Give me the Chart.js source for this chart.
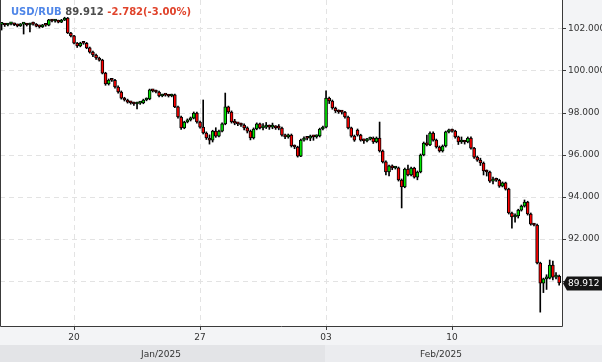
<!DOCTYPE html>
<html><head><meta charset="utf-8">
<script src="https://cdn.jsdelivr.net/npm/chart.js"></script>
<style>html,body{margin:0;padding:0;background:#f3f4f6;}canvas{display:block;}</style>
</head><body>
<canvas id="c" width="602" height="362"></canvas>
<script>
const symbol = 'USD/RUB';
const lastPriceText = '89.912';
const changeText = '-2.782(-3.00%)';

// 3-hour candles, index 0 = Jan 15
const open = [102.22,102.24,102.19,102.24,102.25,102.20,102.15,102.23,102.24,102.19,
102.24,102.23,102.14,102.10,102.19,102.18,102.43,102.38,102.39,102.33,
102.42,102.52,101.81,101.67,101.33,101.19,101.33,101.32,101.10,100.90,
100.76,100.62,100.52,99.90,99.38,99.57,99.56,99.24,99.00,98.71,
98.62,98.52,98.48,98.43,98.47,98.48,98.62,98.67,99.10,99.05,
99.00,98.81,98.86,98.85,98.81,98.86,98.29,97.81,97.29,97.57,
97.67,97.76,98.00,97.57,97.33,97.05,96.81,96.71,97.14,96.90,
97.14,97.48,98.29,98.05,97.57,97.52,97.48,97.43,97.29,97.14,
96.81,97.24,97.48,97.29,97.33,97.38,97.33,97.34,97.29,97.28,
96.95,96.86,96.95,96.43,96.38,95.95,96.71,96.81,96.80,96.90,
96.86,96.91,97.24,97.33,98.71,98.57,98.24,98.10,98.05,98.04,
97.81,97.29,96.90,97.19,96.95,96.71,96.67,96.76,96.81,96.62,
96.81,96.19,95.67,95.19,95.48,95.38,95.39,94.81,94.48,95.33,
95.05,95.38,94.95,95.19,96.00,96.57,96.48,97.05,96.71,96.38,
96.19,96.43,97.10,97.19,97.14,96.86,96.62,96.63,96.62,96.81,
96.33,95.90,95.76,95.62,95.24,95.19,94.76,94.81,94.80,94.52,
94.67,94.38,93.24,93.05,93.10,93.38,93.57,93.76,93.19,92.71,
92.67,90.86,89.90,90.10,90.14,90.76,90.19,90.24];
const high = [102.28,102.27,102.27,102.30,102.28,102.23,102.26,102.30,102.27,102.28,
102.33,102.26,102.18,102.22,102.24,102.46,102.46,102.43,102.42,102.46,
102.56,102.55,101.84,101.70,101.36,101.37,101.37,101.36,101.14,100.95,
100.80,100.66,100.56,99.94,99.62,99.63,99.60,99.29,99.05,98.75,
98.66,98.56,98.52,98.52,98.53,98.66,98.72,99.14,99.13,99.09,
99.04,98.90,98.90,98.89,98.90,98.90,98.33,97.85,97.61,97.72,
97.81,98.05,98.04,97.62,98.62,97.10,96.96,97.18,97.30,97.19,
97.53,98.95,98.33,98.10,97.70,97.56,97.52,97.48,97.34,97.19,
97.29,97.53,97.52,97.50,97.55,97.43,97.52,97.40,97.45,97.33,
97.00,97.00,97.00,96.48,96.42,96.76,96.86,96.86,96.95,96.94,
96.96,97.28,97.38,99.05,98.76,98.62,98.28,98.15,98.10,98.08,
97.85,97.33,96.95,97.24,96.99,96.76,96.80,96.85,96.86,96.86,
97.57,96.24,95.72,95.52,95.53,95.44,95.43,94.86,95.38,95.52,
95.43,95.42,95.24,96.05,96.62,96.95,97.10,97.10,96.76,96.43,
96.48,97.14,97.24,97.24,97.18,96.90,96.86,96.70,96.86,96.86,
96.37,95.95,95.85,95.67,95.29,95.23,94.95,94.90,94.85,94.72,
94.71,94.42,93.28,93.20,93.42,93.62,93.86,93.80,93.24,92.75,
92.71,90.90,90.14,90.30,91.00,90.95,90.40,90.28];
const low = [101.95,102.12,102.15,102.19,102.16,102.10,102.12,101.76,102.14,101.86,
102.18,102.10,102.05,102.07,102.13,102.15,102.34,102.33,102.29,102.30,
102.40,101.78,101.62,101.29,101.12,101.15,101.27,101.06,100.85,100.68,
100.55,100.47,99.86,99.32,99.33,99.50,99.18,98.95,98.66,98.57,
98.47,98.42,98.36,98.19,98.41,98.44,98.58,98.63,99.00,98.96,
98.76,98.77,98.80,98.76,98.77,98.25,97.76,97.22,97.25,97.53,
97.62,97.72,97.52,97.28,97.00,96.74,96.52,96.62,96.84,96.86,
97.10,97.44,97.98,97.52,97.44,97.40,97.36,97.20,97.05,96.72,
96.76,97.20,97.24,97.20,97.26,97.22,97.25,97.22,97.20,96.90,
96.78,96.80,96.38,96.30,95.90,95.92,96.66,96.72,96.68,96.70,
96.80,96.86,97.20,97.29,98.45,98.18,98.02,97.98,97.95,97.75,
97.24,96.85,96.65,96.90,96.66,96.55,96.62,96.72,96.55,96.58,
96.14,95.62,95.05,95.00,95.30,95.33,94.76,93.48,94.44,95.00,
95.00,94.90,94.82,95.15,95.96,96.43,96.44,96.66,96.33,96.14,
96.14,96.38,97.05,97.09,96.80,96.50,96.55,96.52,96.58,96.28,
95.84,95.70,95.50,95.05,95.00,94.70,94.62,94.74,94.46,94.48,
94.33,93.19,92.52,92.80,93.00,93.33,93.52,93.14,92.66,92.62,
90.82,88.52,89.45,89.60,90.10,90.05,90.10,89.80];
const close = [102.24,102.19,102.24,102.25,102.20,102.15,102.23,102.24,102.19,102.24,
102.23,102.14,102.10,102.19,102.18,102.43,102.38,102.39,102.33,102.42,
102.52,101.81,101.67,101.33,101.19,101.33,101.32,101.10,100.90,100.76,
100.62,100.52,99.90,99.38,99.57,99.56,99.24,99.00,98.71,98.62,
98.52,98.48,98.43,98.47,98.48,98.62,98.67,99.10,99.05,99.00,
98.81,98.86,98.85,98.81,98.86,98.29,97.81,97.29,97.57,97.67,
97.76,98.00,97.57,97.33,97.05,96.81,96.71,97.14,96.90,97.14,
97.48,98.29,98.05,97.57,97.52,97.48,97.43,97.29,97.14,96.81,
97.24,97.48,97.29,97.33,97.38,97.33,97.34,97.29,97.28,96.95,
96.86,96.95,96.43,96.38,95.95,96.71,96.81,96.80,96.90,96.86,
96.91,97.24,97.33,98.71,98.57,98.24,98.10,98.05,98.04,97.81,
97.29,96.90,96.71,96.95,96.71,96.67,96.76,96.81,96.62,96.81,
96.19,95.67,95.19,95.48,95.38,95.39,94.81,94.48,95.33,95.05,
95.38,94.95,95.19,96.00,96.57,96.48,97.05,96.71,96.38,96.19,
96.43,97.10,97.19,97.14,96.86,96.62,96.63,96.62,96.81,96.33,
95.90,95.76,95.62,95.24,95.19,94.76,94.81,94.80,94.52,94.67,
94.38,93.24,93.05,93.10,93.38,93.57,93.76,93.19,92.71,92.67,
90.86,89.90,90.10,90.14,90.76,90.19,90.24,89.912];

const xTickIndex = [23, 63, 103, 143];
const xTickLabels = ['20', '27', '03', '10'];
const monthCenters = [50.6, 139.5];
const monthLabels = ['Jan/2025', 'Feb/2025'];
const monthBoundary = 102.75;
const yTicks = [90, 92, 94, 96, 98, 100, 102];

const X_MIN = -0.5, X_MAX = 177.9, Y_MIN = 87.86, Y_MAX = 103.38;
const UP = '#00e600', DOWN = '#ff0000';
const AXIS_FONT = {family: '"DejaVu Sans"', size: 9};

const bodies = close.map((c, i) => ({x: i, y: [open[i], c]}));
const wicks = close.map((c, i) => ({x: i, y: [low[i], high[i]]}));
const bodyColors = close.map((c, i) => c >= open[i] ? UP : DOWN);

const noPad = s => { s.paddingTop = 0; s.paddingBottom = 0; s.paddingLeft = 0; s.paddingRight = 0; };

const decor = {
  id: 'decor',
  beforeDraw(chart) {
    const {ctx, chartArea: a, width, height} = chart;
    const xs = chart.scales.x;
    ctx.save();
    ctx.fillStyle = '#f3f4f6';
    ctx.fillRect(0, 0, width, height);
    ctx.fillStyle = '#ffffff';
    ctx.fillRect(a.left, a.top, a.right - a.left, a.bottom - a.top);
    const b = Math.round(xs.getPixelForValue(monthBoundary));
    ctx.fillStyle = '#e3e4e7';
    ctx.fillRect(0, 345, b, height - 345);
    ctx.fillStyle = '#ebecef';
    ctx.fillRect(b, 345, width - b, height - 345);
    ctx.restore();
  },
  afterDraw(chart) {
    const {ctx, chartArea: a, width} = chart;
    const ys = chart.scales.y;
    ctx.save();
    ctx.strokeStyle = '#3a3a3a';
    ctx.lineWidth = 1;
    ctx.beginPath();
    ctx.moveTo(a.left + 0.5, a.top);
    ctx.lineTo(a.left + 0.5, a.bottom + 0.5);
    ctx.lineTo(a.right + 0.5, a.bottom + 0.5);
    ctx.lineTo(a.right + 0.5, a.top);
    ctx.stroke();
    ctx.font = 'bold 10px "DejaVu Sans"';
    ctx.textBaseline = 'middle';
    let x = 11;
    const parts = [[symbol + ' ', '#4f86e8'], [lastPriceText + ' ', '#4d4d4d'], [changeText, '#e0432b']];
    for (const [t, col] of parts) {
      ctx.fillStyle = col;
      ctx.fillText(t, x, 12);
      x += ctx.measureText(t).width;
    }
    const y = Math.round(ys.getPixelForValue(close[close.length - 1])) + 0.5;
    ctx.fillStyle = '#151515';
    ctx.beginPath();
    ctx.moveTo(a.right + 1, y);
    ctx.lineTo(a.right + 5, y - 7);
    ctx.lineTo(width, y - 7);
    ctx.lineTo(width, y + 7);
    ctx.lineTo(a.right + 5, y + 7);
    ctx.closePath();
    ctx.fill();
    ctx.fillStyle = '#ffffff';
    ctx.font = '9px "DejaVu Sans"';
    ctx.fillText(lastPriceText, a.right + 6, y + 0.5);
    ctx.restore();
  }
};

new Chart(document.getElementById('c'), {
  type: 'bar',
  data: {
    datasets: [
      {data: bodies, backgroundColor: bodyColors, borderColor: '#000', borderWidth: 1,
       borderSkipped: false, barThickness: 3, minBarLength: 2, grouped: false, order: 0},
      {data: wicks, backgroundColor: '#000', borderWidth: 0, barThickness: 1,
       grouped: false, order: 1}
    ]
  },
  options: {
    responsive: false,
    devicePixelRatio: 1,
    animation: false,
    layout: {padding: 0},
    plugins: {legend: {display: false}, tooltip: {enabled: false}, title: {display: false}},
    scales: {
      x: {
        type: 'linear', position: 'bottom', min: X_MIN, max: X_MAX, offset: false, weight: 0,
        afterBuildTicks: s => { s.ticks = xTickIndex.map(v => ({value: v})); },
        afterFit: s => { s.height = 19; noPad(s); },
        ticks: {
          autoSkip: false, maxRotation: 0, padding: 2, color: '#333', font: AXIS_FONT,
          callback: v => xTickLabels[xTickIndex.indexOf(v)]
        },
        grid: {offset: false, color: '#e3e3e3', drawTicks: true, tickLength: 4, tickColor: '#3a3a3a', tickBorderDash: []},
        border: {display: false, dash: [5, 4]}
      },
      x2: {
        type: 'linear', position: 'bottom', min: X_MIN, max: X_MAX, offset: false, weight: 1,
        afterBuildTicks: s => { s.ticks = monthCenters.map(v => ({value: v})); },
        afterFit: s => { s.height = 17; noPad(s); },
        ticks: {
          autoSkip: false, maxRotation: 0, padding: 4, color: '#333', font: AXIS_FONT,
          callback: v => monthLabels[monthCenters.indexOf(v)]
        },
        grid: {display: false, drawTicks: false, offset: false},
        border: {display: false}
      },
      y: {
        type: 'linear', position: 'right', min: Y_MIN, max: Y_MAX,
        afterBuildTicks: s => { s.ticks = yTicks.map(v => ({value: v})); },
        afterFit: s => { s.width = 40; noPad(s); },
        ticks: {
          autoSkip: false, padding: 2, color: '#333', font: AXIS_FONT,
          callback: v => v === 90 ? '' : v.toFixed(3)
        },
        grid: {color: '#e3e3e3', drawTicks: true, tickLength: 4, tickColor: '#3a3a3a', tickBorderDash: []},
        border: {display: false, dash: [5, 4]}
      }
    }
  },
  plugins: [decor]
});
</script>
</body></html>
